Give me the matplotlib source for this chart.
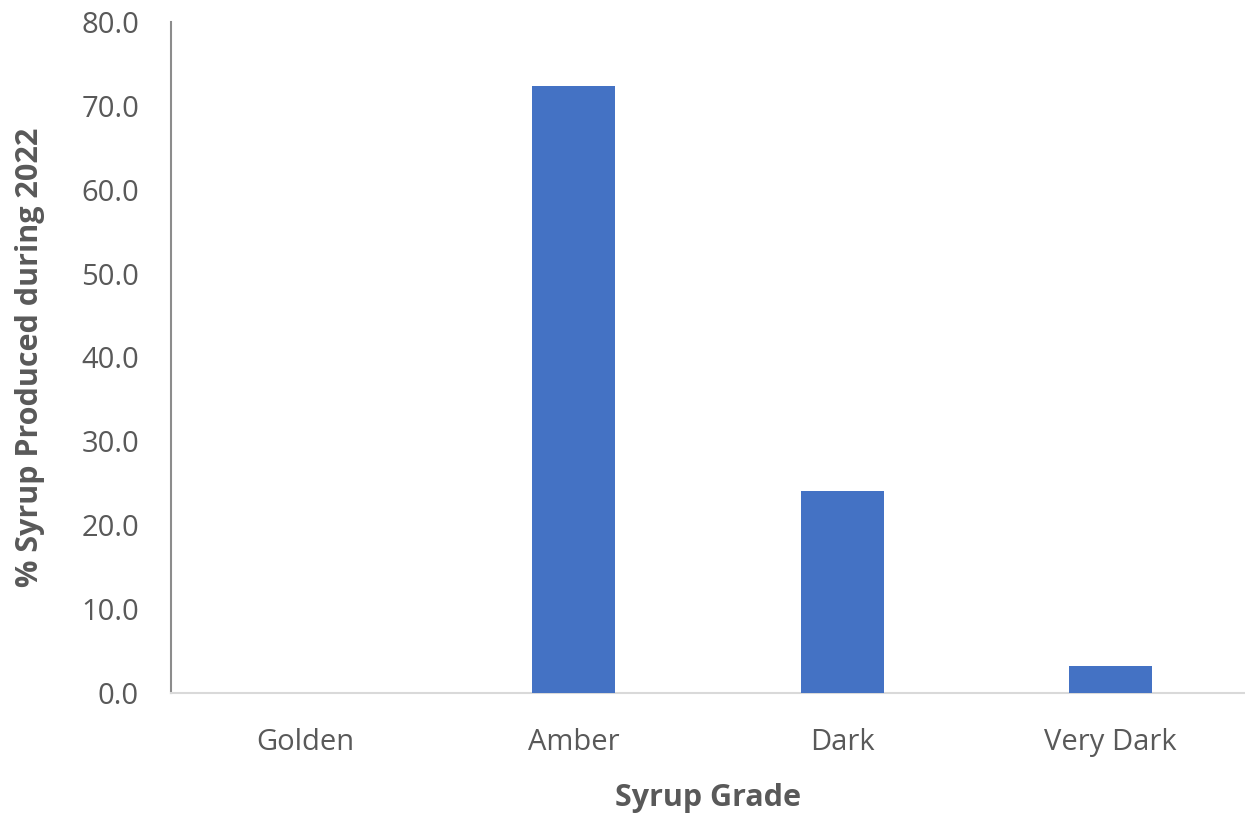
import matplotlib
matplotlib.use("Agg")
import matplotlib.pyplot as plt
from matplotlib.ticker import FormatStrFormatter

grades = ["Golden", "Amber", "Dark", "Very Dark"]
percent_2022 = [0.0, 72.4, 24.1, 3.2]
y_ticks = [0, 10, 20, 30, 40, 50, 60, 70, 80]

plt.rcParams["font.family"] = ["Open Sans", "DejaVu Sans"]
text_color = "#595959"

fig = plt.figure(figsize=(12.45, 8.18), dpi=100)
ax = fig.add_axes([171 / 1245, 125 / 818, 1 - 171 / 1245, 671 / 818])

x = range(len(grades))
ax.bar(x, percent_2022, width=0.31, color="#4472C4", zorder=3)

ax.set_xlim(-0.5, len(grades) - 0.5)
ax.set_ylim(0, 80)
ax.set_yticks(y_ticks)
ax.yaxis.set_major_formatter(FormatStrFormatter("%.1f"))
ax.set_xticks(list(x))
ax.set_xticklabels(grades)

for s in ["top", "right"]:
    ax.spines[s].set_visible(False)
ax.spines["left"].set_color("#8c8c8c")
ax.spines["left"].set_linewidth(1.5)
ax.spines["bottom"].set_color("#d9d9d9")
ax.spines["bottom"].set_linewidth(1.5)

ax.tick_params(axis="both", length=0, labelsize=21, colors=text_color)
ax.tick_params(axis="y", pad=23)
ax.tick_params(axis="x", pad=25)

ax.set_xlabel("Syrup Grade", fontsize=22, fontweight="bold", color=text_color, labelpad=19)
ax.set_ylabel("% Syrup Produced during 2022", fontsize=22, fontweight="bold", color=text_color, labelpad=26)

fig.savefig("out.png", dpi=100)
